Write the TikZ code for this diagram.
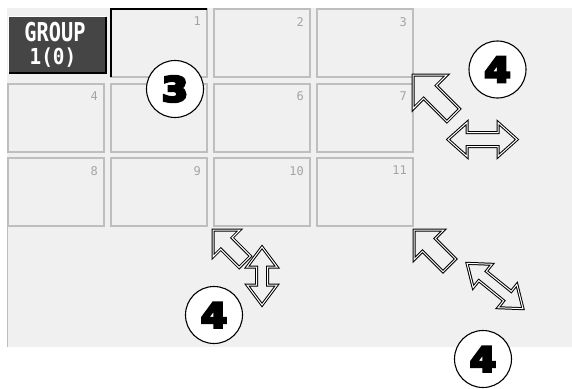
\documentclass[tikz,border=0pt]{standalone}
\usepackage{fontspec}
\newfontfamily\monofont{DejaVu Sans Mono}
\newfontfamily\heavyfont[UprightFont={* Bold}, FakeBold=8]{DejaVu Sans}
\definecolor{bg}{HTML}{F0F0F0}
\definecolor{cellline}{HTML}{BEBEBE}
\definecolor{numgray}{HTML}{A4A4A4}
\definecolor{groupfill}{HTML}{454545}
\tikzset{
  cellbox/.style={draw=cellline, line width=2pt, fill=bg, minimum width=96pt, minimum height=68pt,
    anchor=north west, inner sep=0pt, outer sep=0pt},
  numlbl/.style={anchor=north east, inner sep=0pt, text=numgray, font=\monofont\fontsize{12}{12}\selectfont},
  badge/.style={circle, draw=black, fill=white, line width=1.1pt, minimum size=57pt, inner sep=0pt,
    font=\heavyfont\fontsize{34}{34}\selectfont},
  arrowline/.style={draw=black, line width=1pt, double=white, double distance=1pt, fill=bg, line join=miter},
  pics/cursor/.style n args={4}{code={
    \path[arrowline] (0,0) -- (#1,#2) -- (#1,#3) -- (#4,#3) -- (#4,-#3) -- (#1,-#3) -- (#1,-#2) -- cycle;}},
  pics/dblarrow/.style n args={4}{code={
    \path[arrowline] (-#1,0) -- ({-#1+#2},#3) -- ({-#1+#2},#4) -- ({#1-#2},#4) -- ({#1-#2},#3) -- (#1,0)
      -- ({#1-#2},-#3) -- ({#1-#2},-#4) -- ({-#1+#2},-#4) -- ({-#1+#2},-#3) -- cycle;}}
}
\begin{document}
\begin{tikzpicture}[x=1pt,y=-1pt]
\useasboundingbox (0,0) rectangle (572,388);
\fill[white] (0,0) rectangle (572,388);
\fill[bg] (7,8) rectangle (572,347);
\draw[cellline, line width=0.8pt] (7.5,226) -- (7.5,347);
% cells
\foreach \i/\c/\r in {1/1/0,2/2/0,3/3/0,4/0/1,5/1/1,6/2/1,7/3/1,8/0/2,9/1/2,10/2/2,11/3/2}{
  \node[cellbox] (c\i) at ({8+103*\c},{9+74.5*\r}) {};
}
\foreach \i in {1,2,3,4,6,7,8,9,10,11}{
  \node[numlbl] (n\i) at ([xshift=-6pt,yshift=-8pt]c\i.north east) {\i};
}
\draw[black, line width=1.2pt] (c1.south west) -- (c1.north west) -- (c1.north east);
% group box
\node[fill=groupfill, minimum width=97pt, minimum height=56pt, anchor=north west, inner sep=0pt] (grp) at (8.5,16.5) {};
\draw[white, line width=1.5pt] (grp.south west) -- (grp.north west) -- (grp.north east);
\draw[black, line width=1.5pt] (grp.north east) -- (grp.south east) -- (grp.south west);
\node[text=white, font=\monofont\bfseries\fontsize{26}{26}\selectfont, xscale=0.78, inner sep=0pt] (gt1) at (55,32) {GROUP};
\node[text=white, font=\monofont\bfseries\fontsize{22}{22}\selectfont, xscale=0.88, inner sep=0pt] (gt2) at (53,58) {1(0)};
% badges
\node[badge] (b3) at (175,89) {\scalebox{1.1}[1]{3}};
\node[badge] (b4a) at (497.5,69.5) {\scalebox{1.1}[1]{4}};
\node[badge] (b4b) at (214,315) {\scalebox{1.1}[1]{4}};
\node[badge] (b4c) at (483,359) {\scalebox{1.1}[1]{4}};
% arrows
\pic[rotate=-45] at (413,75) {cursor={24}{24}{9}{57}};
\pic at (482.5,139.5) {dblarrow={34.5}{19}{17}{7}};
\pic[rotate=-45] at (213,230) {cursor={19}{19}{8}{45}};
\pic[rotate=90] at (262,276) {dblarrow={29}{20}{15}{5.5}};
\pic[rotate=-45] at (414,230) {cursor={21}{21}{9}{50}};
\pic[rotate=-39] at (495,286) {dblarrow={36}{20}{15}{6}};
\end{tikzpicture}
\end{document}
